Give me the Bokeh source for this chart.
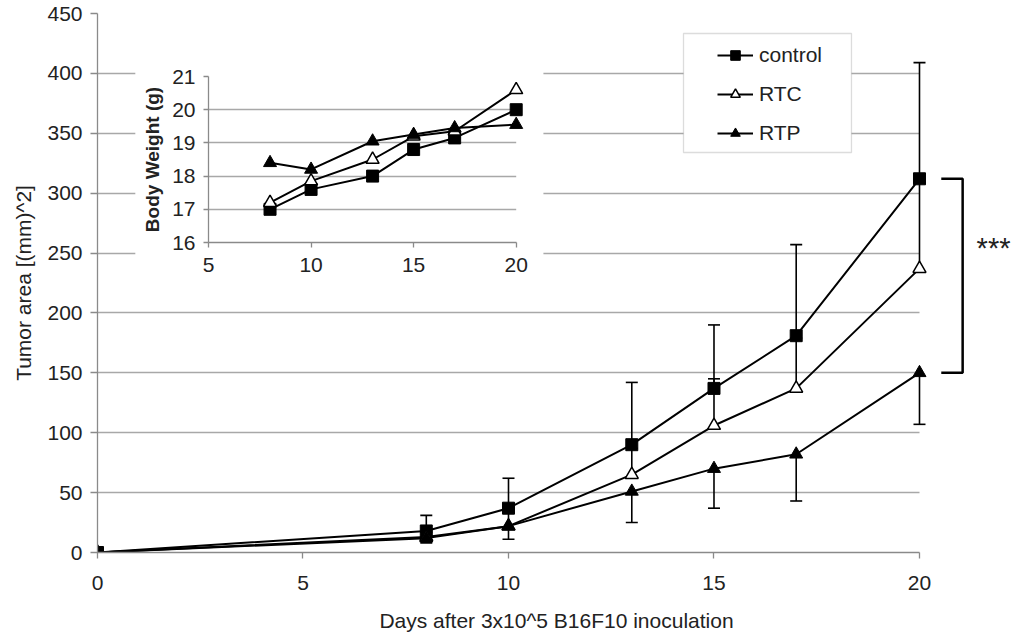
from bokeh.plotting import figure
from bokeh.models import (Range1d, ColumnDataSource, Whisker, TeeHead, Legend, LegendItem,
                          BoxAnnotation, FixedTicker, Label)
from bokeh.layouts import column
from bokeh.embed import file_html
from bokeh.resources import INLINE

# ---------------- data ----------------
days = [0, 8, 10, 13, 15, 17, 20]
control = [0, 18, 37, 90, 137, 181, 312]
control_err = [0, 13, 25, 52, 53, 76, 97]
rtc = [0, 13, 22, 65, 106, 137, 237]
rtc_err = [0, 4, 15, 22, 39, 42, 72]
rtp = [0, 12, 22, 51, 70, 82, 150]
rtp_err = [0, 4, 11, 26, 33, 39, 43]

bw_days = [8, 10, 13, 15, 17, 20]
bw_control = [17.0, 17.6, 18.0, 18.8, 19.15, 20.0]
bw_rtc = [17.2, 17.85, 18.5, 19.2, 19.35, 20.6]
bw_rtp = [18.4, 18.2, 19.05, 19.25, 19.45, 19.55]

x_ticks = [0, 5, 10, 15, 20]
y_ticks = [0, 50, 100, 150, 200, 250, 300, 350, 400, 450]
inset_x_ticks = [5, 10, 15, 20]
inset_y_ticks = [16, 17, 18, 19, 20, 21]

FONT = "Liberation Sans"
TXT = "#222222"
GRID = "#a8a8a8"
AXIS = "#8a8a8a"
FS = "21px"

# ---------------- main figure ----------------
p = figure(frame_width=918, frame_height=539,
           x_range=Range1d(0, 22.336), y_range=Range1d(0, 450),
           output_backend="svg", toolbar_location=None,
           min_border_left=97, min_border_right=0, min_border_top=13, min_border_bottom=83)
p.outline_line_color = None
p.background_fill_color = "white"
p.border_fill_color = "white"

p.xgrid.visible = False
p.ygrid.ticker = FixedTicker(ticks=y_ticks)
p.ygrid.grid_line_color = GRID
p.ygrid.grid_line_width = 1.3

for ax in (p.xaxis[0], p.yaxis[0]):
    ax.axis_line_color = AXIS
    ax.axis_line_width = 1.3
    ax.major_tick_line_color = AXIS
    ax.major_tick_line_width = 1.3
    ax.major_tick_in = 0
    ax.major_tick_out = 7
    ax.minor_tick_line_color = None
    ax.major_label_text_font = FONT
    ax.major_label_text_font_size = FS
    ax.major_label_text_color = TXT
    ax.axis_label_text_font = FONT
    ax.axis_label_text_font_size = FS
    ax.axis_label_text_font_style = "normal"
    ax.axis_label_text_color = TXT

p.xaxis.ticker = FixedTicker(ticks=x_ticks)
p.xaxis.bounds = (0, 20)
p.xaxis.major_tick_out = 6
p.xaxis.major_label_standoff = 17
p.xaxis.axis_label = "Days after 3x10^5 B16F10 inoculation"
p.xaxis.axis_label_standoff = 16

p.yaxis.ticker = FixedTicker(ticks=y_ticks)
p.yaxis.major_label_standoff = 8
p.yaxis.axis_label = "Tumor area [(mm)^2]"
p.yaxis.axis_label_standoff = 9

# hide gridlines to the right of day 20 and behind the inset
p.add_layout(BoxAnnotation(left=20, fill_color="white", fill_alpha=1, line_color=None,
                           level="underlay"))
p.add_layout(BoxAnnotation(left=0.92, right=10.85, bottom=218.7, top=415,
                           fill_color="white", fill_alpha=1, line_color=None,
                           level="underlay"))

def upper(v, e):
    return [a + b for a, b in zip(v, e)]

def lower(v, e):
    return [a - b for a, b in zip(v, e)]

src_c = ColumnDataSource(dict(x=days, y=control, up=upper(control, control_err)))
src_t = ColumnDataSource(dict(x=days, y=rtc, up=upper(rtc, rtc_err)))
src_p = ColumnDataSource(dict(x=days, y=rtp, lo=lower(rtp, rtp_err)))

for src, up, lo, top in ((src_c, "up", "y", True), (src_t, "up", "y", True),
                         (src_p, "y", "lo", False)):
    head = TeeHead(size=12, line_color="black", line_width=1.6)
    p.add_layout(Whisker(source=src, base="x", upper=up, lower=lo, dimension="height",
                         line_color="black", line_width=1.6,
                         upper_head=head if top else None,
                         lower_head=None if top else head))

lc = p.line("x", "y", source=src_c, line_color="black", line_width=2)
mc = p.scatter("x", "y", source=src_c, marker="square", size=12, fill_color="black",
               line_color="black")
lt = p.line("x", "y", source=src_t, line_color="black", line_width=2)
mt = p.scatter("x", "y", source=src_t, marker="triangle", size=13, fill_color="white",
               line_color="black", line_width=1.5)
lp = p.line("x", "y", source=src_p, line_color="black", line_width=2)
mp = p.scatter("x", "y", source=src_p, marker="triangle", size=13, fill_color="black",
               line_color="black")

# significance bracket
bracket_x = [20.53, 21.05, 21.05, 20.53]
bracket_y = [control[-1], control[-1], rtp[-1], rtp[-1]]
p.line(bracket_x, bracket_y, line_color="black", line_width=2.5)
p.add_layout(Label(x=21.39, y=254, text="***", text_font=FONT, text_font_size="29px",
                   text_color=TXT, text_baseline="alphabetic", text_align="left"))

# legend box + legend
p.add_layout(BoxAnnotation(left=14.258, right=18.345, top=433.3, bottom=333.95,
                           fill_color="white", fill_alpha=1, line_color="#8a8a8a",
                           line_width=1.3, level="annotation"))
legend = Legend(items=[LegendItem(label="control", renderers=[lc, mc]),
                       LegendItem(label="RTC", renderers=[lt, mt]),
                       LegendItem(label="RTP", renderers=[lp, mp])],
                location=(620, 407), padding=0, margin=0, spacing=15,
                glyph_width=36, glyph_height=24, label_height=24, label_standoff=6,
                border_line_color=None, background_fill_alpha=0,
                label_text_font=FONT, label_text_font_size=FS, label_text_color=TXT)
p.add_layout(legend)

# ---------------- inset ----------------
# (column aligns left/right borders, so they match the main figure: 97 / 0)
q = figure(frame_width=320, frame_height=166, x_range=Range1d(5, 20.6), y_range=Range1d(16, 21),
           output_backend="svg", toolbar_location=None,
           min_border_left=97, min_border_right=0, min_border_top=21, min_border_bottom=48)
q.outline_line_color = None
q.background_fill_color = "white"
q.border_fill_alpha = 0
q.xgrid.visible = False
q.ygrid.ticker = FixedTicker(ticks=inset_y_ticks)
q.ygrid.grid_line_color = GRID
q.ygrid.grid_line_width = 1.3
for ax in (q.xaxis[0], q.yaxis[0]):
    ax.axis_line_color = AXIS
    ax.axis_line_width = 1.3
    ax.major_tick_line_color = AXIS
    ax.major_tick_line_width = 1.3
    ax.major_tick_in = 0
    ax.major_tick_out = 5
    ax.minor_tick_line_color = None
    ax.major_label_text_font = FONT
    ax.major_label_text_font_size = FS
    ax.major_label_text_color = TXT
    ax.axis_label_text_font = FONT
    ax.axis_label_text_color = TXT
q.xaxis.ticker = FixedTicker(ticks=inset_x_ticks)
q.xaxis.bounds = (5, 20)
q.yaxis.ticker = FixedTicker(ticks=inset_y_ticks)
q.xaxis.major_label_standoff = 10
q.yaxis.major_label_standoff = 8
q.yaxis.axis_label = "Body Weight (g)"
q.yaxis.axis_label_text_font_size = "19px"
q.yaxis.axis_label_text_font_style = "bold"
q.yaxis.axis_label_standoff = 6
q.add_layout(BoxAnnotation(left=20, fill_color="white", fill_alpha=1, line_color=None,
                           level="underlay"))

q.line(bw_days, bw_control, line_color="black", line_width=2)
q.scatter(bw_days, bw_control, marker="square", size=12, fill_color="black", line_color="black")
q.line(bw_days, bw_rtc, line_color="black", line_width=2)
q.scatter(bw_days, bw_rtc, marker="triangle", size=13, fill_color="white", line_color="black",
          line_width=1.5)
q.line(bw_days, bw_rtp, line_color="black", line_width=2)
q.scatter(bw_days, bw_rtp, marker="triangle", size=13, fill_color="black", line_color="black")

q.styles = {"position": "absolute", "left": "111px", "top": "55px", "z-index": "10"}

layout = column(p, q)
open("out.html", "w").write(file_html(layout, INLINE))
